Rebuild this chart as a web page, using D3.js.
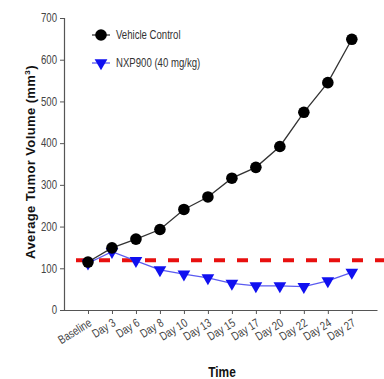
<!DOCTYPE html>
<html>
<head>
<meta charset="utf-8">
<script src="https://cdn.jsdelivr.net/npm/d3@7"></script>
<style>
  body { margin: 0; background: #fff; }
  svg { display: block; }
  .tick text { font-family: "Liberation Sans", Arial, sans-serif; font-size: 12px; fill: #444; }
</style>
</head>
<body>
<svg id="chart" width="384" height="379"></svg>
<script>
const days = ["Baseline", "Day 3", "Day 6", "Day 8", "Day 10", "Day 13", "Day 15", "Day 17", "Day 20", "Day 22", "Day 24", "Day 27"];
const vehicle = [115, 149, 170, 193, 241, 271, 316, 342, 392, 474, 545, 649];
const nxp900 = [112, 140, 118, 96, 86, 77, 64, 58, 58, 56, 70, 90];
const baselineRef = 119;
const yTicks = [0, 100, 200, 300, 400, 500, 600, 700];

const svg = d3.select("#chart");
const narrow = 0.8; // squeeze text, the original uses a condensed face

// index scale: axis runs a bit past the first and last category
const x = d3.scaleLinear().domain([-1, 12.05]).range([64, 377]);
const y = d3.scaleLinear().domain([0, 700]).range([310, 18]);

// y axis
const yAxis = svg.append("g")
  .attr("transform", "translate(64,0)")
  .call(d3.axisLeft(y).tickValues(yTicks).tickSize(4).tickPadding(3));
yAxis.select(".domain").attr("stroke", "#555").attr("stroke-width", 1.2);
yAxis.selectAll(".tick line").attr("stroke", "#555");
yAxis.selectAll(".tick text")
  .attr("x", 0)
  .attr("transform", `translate(-7,0) scale(${narrow},1)`);

// x axis
const xAxis = svg.append("g")
  .attr("transform", "translate(0,310)")
  .call(d3.axisBottom(x).tickValues(d3.range(days.length)).tickFormat(i => days[i]).tickSize(4).tickSizeOuter(0));
xAxis.select(".domain").attr("stroke", "#555").attr("stroke-width", 1.2);
xAxis.selectAll(".tick line").attr("stroke", "#555");
xAxis.selectAll(".tick text")
  .attr("text-anchor", "end")
  .attr("y", 0)
  .attr("dy", 0)
  .attr("transform", `translate(4,15) rotate(-32) scale(${narrow},1)`);

// red dashed reference line
svg.append("line")
  .attr("x1", 76).attr("x2", 384)
  .attr("y1", y(baselineRef)).attr("y2", y(baselineRef))
  .attr("stroke", "#e8100f").attr("stroke-width", 4)
  .attr("stroke-dasharray", "11,12");

const line = d3.line().x((d, i) => x(i)).y(d => y(d));

// NXP900 series
svg.append("path").datum(nxp900)
  .attr("d", line).attr("fill", "none")
  .attr("stroke", "#5b5bf0").attr("stroke-width", 1.3);

const tri = d3.symbol().type(d3.symbolTriangle).size(70);
svg.selectAll(".tri").data(nxp900).join("path")
  .attr("class", "tri")
  .attr("d", tri)
  .attr("transform", (d, i) => `translate(${x(i)},${y(d)}) rotate(180)`)
  .attr("fill", "#1010f0");

// vehicle series
svg.append("path").datum(vehicle)
  .attr("d", line).attr("fill", "none")
  .attr("stroke", "#333").attr("stroke-width", 1.3);
svg.selectAll(".dot").data(vehicle).join("circle")
  .attr("class", "dot")
  .attr("cx", (d, i) => x(i)).attr("cy", d => y(d))
  .attr("r", 5.8).attr("fill", "#000");

// legend
const legend = [
  { name: "Vehicle Control", color: "#333", mark: "circle" },
  { name: "NXP900 (40 mg/kg)", color: "#5b5bf0", mark: "tri" }
];
legend.forEach((d, i) => {
  const ly = 35 + i * 28;
  svg.append("line").attr("x1", 92).attr("x2", 110).attr("y1", ly).attr("y2", ly)
    .attr("stroke", d.color).attr("stroke-width", 1.3);
  if (d.mark === "circle") {
    svg.append("circle").attr("cx", 101).attr("cy", ly).attr("r", 5.8).attr("fill", "#000");
  } else {
    svg.append("path").attr("d", tri).attr("fill", "#1010f0")
      .attr("transform", `translate(101,${ly}) rotate(180)`);
  }
  svg.append("text")
    .attr("transform", `translate(116,${ly + 4}) scale(${narrow},1)`)
    .attr("font-family", "'Liberation Sans', Arial, sans-serif")
    .attr("font-size", 12).attr("fill", "#333")
    .text(d.name);
});

// axis titles
const yTitle = svg.append("text")
  .attr("transform", "translate(35,162) rotate(-90)")
  .attr("text-anchor", "middle")
  .attr("font-family", "'Liberation Sans', Arial, sans-serif")
  .attr("font-size", 13).attr("font-weight", "bold").attr("fill", "#111")
  .attr("letter-spacing", 0.4);
yTitle.append("tspan").text("Average Tumor Volume (mm");
yTitle.append("tspan").attr("font-size", 8).attr("dy", -5).text("3");
yTitle.append("tspan").attr("dy", 5).text(")");

svg.append("text")
  .attr("transform", `translate(222,377) scale(${narrow + 0.05},1)`)
  .attr("text-anchor", "middle")
  .attr("font-family", "'Liberation Sans', Arial, sans-serif")
  .attr("font-size", 14).attr("font-weight", "bold").attr("fill", "#111")
  .text("Time");
</script>
</body>
</html>
